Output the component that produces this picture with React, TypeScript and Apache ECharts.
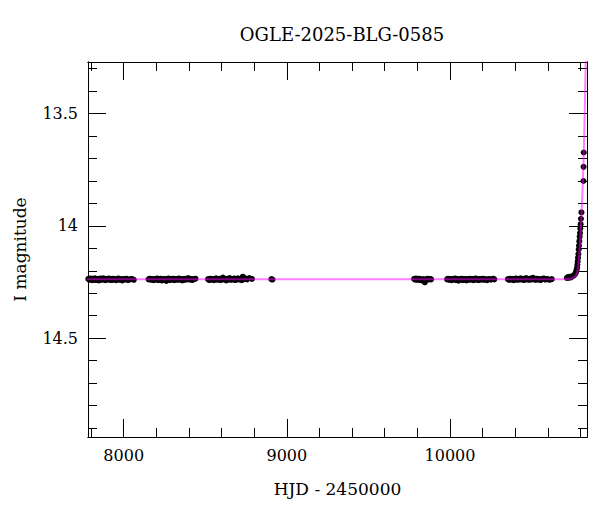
import React, { useEffect, useRef } from "react";
import * as echarts from "echarts";

const TITLE = "OGLE-2025-BLG-0585";
const X_NAME = "HJD - 2450000";
const Y_NAME = "I magnitude";

const X_MIN = 7781;
const X_MAX = 10840;
const Y_MIN = 13.27;
const Y_MAX = 14.94;

const X_MAJOR = [8000, 9000, 10000];
const X_MINOR = [7800, 8200, 8400, 8600, 8800, 9200, 9400, 9600, 9800, 10200, 10400, 10600, 10800];
const Y_MAJOR = [13.5, 14, 14.5];
const Y_MINOR = [13.3, 13.4, 13.6, 13.7, 13.8, 13.9, 14.1, 14.2, 14.3, 14.4, 14.6, 14.7, 14.8, 14.9];

const season1 = [
  [7783, 14.236], [7790, 14.240], [7796, 14.234], [7801, 14.238], [7807, 14.242], [7812, 14.235],
  [7818, 14.239], [7824, 14.233], [7829, 14.241], [7835, 14.237], [7841, 14.236], [7847, 14.243],
  [7852, 14.238], [7858, 14.234], [7864, 14.240], [7870, 14.237], [7876, 14.233], [7882, 14.239],
  [7888, 14.242], [7894, 14.236], [7900, 14.238], [7907, 14.234], [7913, 14.240], [7919, 14.237],
  [7926, 14.241], [7932, 14.235], [7939, 14.239], [7946, 14.236], [7953, 14.242], [7960, 14.238],
  [7967, 14.234], [7975, 14.240], [7983, 14.237], [7991, 14.243], [7999, 14.236], [8008, 14.239],
  [8017, 14.235], [8027, 14.241], [8038, 14.238], [8050, 14.236], [8062, 14.240],
];

const season2 = [
  [8152, 14.238], [8160, 14.235], [8168, 14.240], [8176, 14.237], [8184, 14.242], [8191, 14.236],
  [8198, 14.239], [8205, 14.234], [8212, 14.241], [8219, 14.238], [8226, 14.235], [8233, 14.243],
  [8240, 14.237], [8247, 14.240], [8254, 14.236], [8261, 14.245], [8268, 14.238], [8275, 14.234],
  [8282, 14.241], [8289, 14.237], [8296, 14.239], [8303, 14.235], [8310, 14.242], [8317, 14.238],
  [8324, 14.236], [8331, 14.240], [8338, 14.234], [8345, 14.239], [8352, 14.237], [8359, 14.243],
  [8366, 14.236], [8373, 14.240], [8380, 14.235], [8388, 14.238], [8396, 14.232], [8404, 14.239],
  [8412, 14.236], [8421, 14.241], [8430, 14.237], [8440, 14.235],
];

const season3 = [
  [8517, 14.237], [8524, 14.241], [8531, 14.235], [8538, 14.239], [8545, 14.236], [8552, 14.242],
  [8559, 14.238], [8566, 14.233], [8573, 14.240], [8580, 14.237], [8587, 14.235], [8594, 14.241],
  [8601, 14.236], [8608, 14.230], [8615, 14.239], [8622, 14.237], [8629, 14.243], [8636, 14.235],
  [8643, 14.238], [8650, 14.232], [8657, 14.240], [8664, 14.236], [8671, 14.239], [8678, 14.234],
  [8685, 14.241], [8692, 14.237], [8700, 14.233], [8708, 14.239], [8716, 14.236], [8724, 14.242],
  [8730, 14.226], [8737, 14.237], [8745, 14.234], [8757, 14.238], [8770, 14.232], [8786, 14.236],
  [8905, 14.237], [8912, 14.239],
];

const season4 = [
  [9780, 14.236], [9786, 14.239], [9792, 14.234], [9798, 14.240], [9804, 14.237], [9810, 14.235],
  [9816, 14.241], [9822, 14.238], [9828, 14.243], [9834, 14.238], [9840, 14.238], [9846, 14.251],
  [9852, 14.240], [9858, 14.237], [9864, 14.235], [9870, 14.239], [9877, 14.236], [9885, 14.238],
];

const season5 = [
  [9982, 14.238], [9989, 14.235], [9996, 14.240], [10003, 14.237], [10010, 14.242], [10017, 14.236],
  [10024, 14.239], [10031, 14.234], [10038, 14.241], [10045, 14.237], [10052, 14.244], [10059, 14.236],
  [10066, 14.239], [10073, 14.235], [10080, 14.241], [10087, 14.238], [10094, 14.236], [10101, 14.243],
  [10108, 14.237], [10115, 14.240], [10122, 14.235], [10129, 14.239], [10136, 14.236], [10143, 14.242],
  [10150, 14.238], [10157, 14.234], [10164, 14.240], [10171, 14.237], [10178, 14.241], [10185, 14.236],
  [10193, 14.239], [10201, 14.235], [10209, 14.240], [10218, 14.237], [10228, 14.242], [10239, 14.236],
  [10251, 14.239], [10264, 14.235], [10272, 14.238],
];

const season6 = [
  [10355, 14.237], [10362, 14.240], [10369, 14.235], [10376, 14.239], [10383, 14.236], [10390, 14.242],
  [10397, 14.237], [10404, 14.234], [10411, 14.240], [10418, 14.236], [10425, 14.239], [10432, 14.233],
  [10439, 14.238], [10446, 14.235], [10453, 14.241], [10460, 14.237], [10467, 14.232], [10474, 14.239],
  [10481, 14.236], [10488, 14.240], [10495, 14.234], [10502, 14.238], [10509, 14.231], [10516, 14.237],
  [10523, 14.240], [10530, 14.235], [10538, 14.239], [10546, 14.236], [10555, 14.241], [10564, 14.237],
  [10574, 14.234], [10585, 14.239], [10597, 14.236], [10610, 14.240], [10624, 14.237],
];

const season7 = [
  [10716, 14.232], [10722, 14.228], [10728, 14.231], [10735, 14.226], [10742, 14.229], [10748, 14.225],
  [10755, 14.223], [10762, 14.219], [10768, 14.213], [10772, 14.206], [10776, 14.196], [10779, 14.186],
  [10781, 14.172], [10783, 14.158], [10785, 14.142], [10787, 14.125], [10789, 14.105], [10791, 14.088],
  [10793, 14.068], [10795, 14.048], [10797, 14.032], [10799, 14.012], [10801, 13.992], [10803, 13.968],
  [10806, 13.940], [10818, 13.800], [10819, 13.737], [10820, 13.673],
];

const modelCurve = [
  [7700, 14.237], [10700, 14.237], [10740, 14.235], [10760, 14.230], [10772, 14.221], [10780, 14.205],
  [10786, 14.180], [10790, 14.145], [10795, 14.095], [10799, 14.052], [10803, 14.000], [10806.5, 13.945],
  [10810, 13.885], [10814.5, 13.805], [10819, 13.705], [10823, 13.590], [10827, 13.460], [10831, 13.310],
  [10833, 13.220],
];

const FONT = "DejaVu Serif";

export default function App() {
  const ref = useRef<HTMLDivElement>(null);

  useEffect(() => {
    if (!ref.current) return;
    const chart = echarts.init(ref.current, undefined, { renderer: "svg" });

    const axisLine = { show: true, lineStyle: { color: "#000", width: 1 } };
    const xBase = { type: "value", min: X_MIN, max: X_MAX, splitLine: { show: false } };
    const yBase = { type: "value", min: Y_MIN, max: Y_MAX, inverse: true, splitLine: { show: false } };
    const tick = (vals: number[], len: number) => ({
      show: true,
      inside: true,
      length: len,
      customValues: vals,
      lineStyle: { color: "#000", width: 1 },
    });

    const points = [season1, season2, season3, season4, season5, season6, season7].flat();

    chart.setOption({
      animation: false,
      backgroundColor: "#fff",
      title: {
        text: TITLE,
        left: 337,
        top: 20,
        textAlign: "center",
        textStyle: { fontFamily: FONT, fontSize: 18, fontWeight: "normal", color: "#000" },
      },
      grid: { left: 88, right: 13, top: 62, bottom: 75 },
      xAxis: [
        {
          ...xBase,
          position: "bottom",
          axisLine,
          axisTick: tick(X_MAJOR, 18),
          axisLabel: {
            customValues: X_MAJOR,
            margin: 10,
            color: "#000",
            fontFamily: FONT,
            fontSize: 16,
            formatter: (v: number) => String(v),
          },
          name: X_NAME,
          nameLocation: "middle",
          nameGap: 43,
          nameTextStyle: { fontFamily: FONT, fontSize: 17, color: "#000" },
        },
        { ...xBase, position: "bottom", axisLine, axisTick: tick(X_MINOR, 9), axisLabel: { show: false } },
        { ...xBase, position: "top", axisLine, axisTick: tick(X_MAJOR, 18), axisLabel: { show: false } },
        { ...xBase, position: "top", axisLine, axisTick: tick(X_MINOR, 9), axisLabel: { show: false } },
      ],
      yAxis: [
        {
          ...yBase,
          position: "left",
          axisLine,
          axisTick: tick(Y_MAJOR, 18),
          axisLabel: {
            customValues: Y_MAJOR,
            margin: 10,
            color: "#000",
            fontFamily: FONT,
            fontSize: 16,
            formatter: (v: number) => String(v),
          },
          name: Y_NAME,
          nameLocation: "middle",
          nameGap: 60,
          nameTextStyle: { fontFamily: FONT, fontSize: 17, color: "#000" },
        },
        { ...yBase, position: "left", axisLine, axisTick: tick(Y_MINOR, 9), axisLabel: { show: false } },
        { ...yBase, position: "right", axisLine, axisTick: tick(Y_MAJOR, 18), axisLabel: { show: false } },
        { ...yBase, position: "right", axisLine, axisTick: tick(Y_MINOR, 9), axisLabel: { show: false } },
      ],
      series: [
        {
          type: "scatter",
          xAxisIndex: 0,
          yAxisIndex: 0,
          data: points,
          symbol: "circle",
          symbolSize: 6,
          itemStyle: { color: "#000", opacity: 1 },
          z: 2,
        },
        {
          type: "line",
          xAxisIndex: 0,
          yAxisIndex: 0,
          data: modelCurve,
          showSymbol: false,
          symbol: "none",
          clip: true,
          lineStyle: { color: "#ff00ff", width: 2, opacity: 0.5 },
          z: 3,
        },
      ],
    });

    return () => chart.dispose();
  }, []);

  return (
    <div
      ref={ref}
      style={{ position: "fixed", left: 0, top: 0, width: 600, height: 512, background: "#fff" }}
    />
  );
}
